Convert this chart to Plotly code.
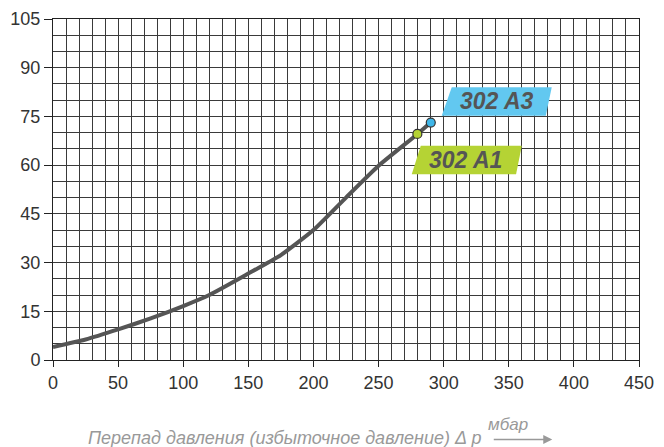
import plotly.graph_objects as go

# Data
dp_mbar = [0, 25, 50, 75, 100, 120, 150, 175, 200, 225, 250, 280, 290]
flow = [4.0, 6.3, 9.4, 12.8, 16.6, 20.0, 26.6, 32.3, 40.0, 50.0, 59.8, 69.6, 73.1]

points_x = [279.8, 290.1]
points_y = [69.6, 73.1]
point_colors = ["#B5D334", "#3FB6E8"]
labels = ["302 A1", "302 A3"]
label_x = [316.5, 341.0]
label_y = [61.6, 79.7]
label_colors = ["#B5D334", "#62C8F0"]

x_ticks = list(range(0, 451, 50))
y_ticks = list(range(0, 106, 15))

fig = go.Figure()

fig.add_trace(go.Scatter(x=dp_mbar, y=flow, mode="lines",
                         line=dict(color="#555555", width=4, shape="spline", smoothing=0.5),
                         hoverinfo="skip", showlegend=False))
fig.add_trace(go.Scatter(x=points_x, y=points_y, mode="markers",
                         marker=dict(color=point_colors, size=9,
                                     line=dict(color="#333333", width=1.2)),
                         showlegend=False))

# label parallelograms
boxes = [
    [(275.5, 57.2), (282.4, 66.0), (360.0, 66.0), (355.6, 57.2)],
    [(298.5, 75.2), (306.2, 84.0), (383.0, 84.0), (378.4, 75.2)],
]
for pts, col in zip(boxes, label_colors):
    path = "M " + " L ".join(f"{px},{py}" for px, py in pts) + " Z"
    fig.add_shape(type="path", path=path, xref="x", yref="y",
                  fillcolor=col, line=dict(width=0), layer="above")

for t, lx, ly in zip(labels, label_x, label_y):
    fig.add_annotation(x=lx, y=ly, xref="x", yref="y", text=f"<b><i>{t}</i></b>",
                       showarrow=False, xanchor="center",
                       font=dict(family="Liberation Sans, Arial, sans-serif", size=23,
                                 color="#555555"))

# x-axis title with unit arrow
fig.add_annotation(x=0.734, y=-0.229, xref="paper", yref="paper",
                   text="<i>Перепад давления (избыточное давление) Δ p</i>",
                   xanchor="right", yanchor="middle", showarrow=False,
                   font=dict(family="Liberation Sans, Arial, sans-serif", size=18,
                             color="#999999"))
fig.add_annotation(x=0.777, y=-0.19, xref="paper", yref="paper",
                   text="<i>мбар</i>", showarrow=False, xanchor="center", yanchor="middle",
                   font=dict(family="Liberation Sans, Arial, sans-serif", size=17,
                             color="#999999"))
fig.add_annotation(x=0.852, y=-0.233, xref="paper", yref="paper", text="",
                   showarrow=True, ax=-60, ay=0, arrowhead=2, arrowsize=1.2,
                   arrowwidth=1.5, arrowcolor="#999999")

grid_col = "#3a3a3a"
tick_font = dict(family="Liberation Sans, Arial, sans-serif", size=18, color="#333333")

fig.update_xaxes(range=[0, 450], tickvals=x_ticks, ticks="outside", ticklen=6,
                 tickcolor="#222222", tickfont=tick_font, automargin=False,
                 showgrid=True, gridcolor=grid_col, gridwidth=1,
                 minor=dict(dtick=10, showgrid=True, gridcolor=grid_col, gridwidth=1, ticks=""),
                 showline=True, linecolor="#222222", linewidth=1, mirror=True,
                 zeroline=False, fixedrange=True)
fig.update_yaxes(range=[0, 105], tickvals=y_ticks, ticks="outside", ticklen=8,
                 tickcolor="#222222", tickfont=tick_font, automargin=False,
                 showgrid=True, gridcolor=grid_col, gridwidth=1,
                 minor=dict(dtick=5, showgrid=True, gridcolor=grid_col, gridwidth=1, ticks=""),
                 showline=True, linecolor="#222222", linewidth=1, mirror=True,
                 zeroline=False, fixedrange=True)

# page body has an 8px offset; margins compensate so the plot area matches
fig.update_layout(width=664, height=447, margin=dict(l=45, r=33, t=11, b=95),
                  plot_bgcolor="white", paper_bgcolor="white", showlegend=False)

fig.write_html("out.html")
